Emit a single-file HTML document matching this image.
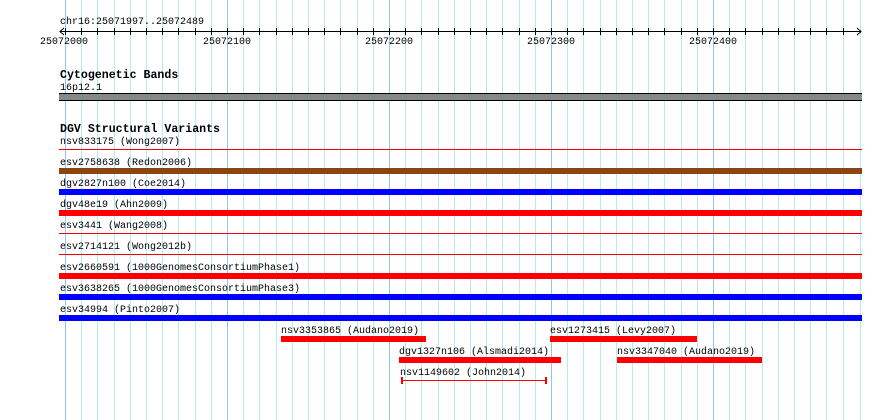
<!DOCTYPE html>
<html><head><meta charset="utf-8"><style>
html,body{margin:0;padding:0;background:#fff;}
svg{display:block;}
text{font-family:"Liberation Mono","DejaVu Sans Mono",monospace;font-size:10px;fill:#000;}
.b{font-weight:bold;font-size:11.6px;}
</style></head><body>
<svg width="890" height="420" xmlns="http://www.w3.org/2000/svg" shape-rendering="crispEdges">
<path stroke="#b4ecf0" stroke-width="1" fill="none" d="M81.5 0V420M97.5 0V420M114.5 0V420M130.5 0V420M146.5 0V420M162.5 0V420M178.5 0V420M195.5 0V420M211.5 0V420M243.5 0V420M259.5 0V420M276.5 0V420M292.5 0V420M308.5 0V420M324.5 0V420M340.5 0V420M357.5 0V420M373.5 0V420M405.5 0V420M421.5 0V420M438.5 0V420M454.5 0V420M470.5 0V420M486.5 0V420M502.5 0V420M519.5 0V420M535.5 0V420M567.5 0V420M583.5 0V420M600.5 0V420M616.5 0V420M632.5 0V420M648.5 0V420M664.5 0V420M681.5 0V420M697.5 0V420M729.5 0V420M745.5 0V420M762.5 0V420M778.5 0V420M794.5 0V420M810.5 0V420M826.5 0V420M843.5 0V420M860.5 0V420"/>
<path stroke="#8cc8ec" stroke-width="1" fill="none" d="M65.5 0V420M227.5 0V420M389.5 0V420M551.5 0V420M713.5 0V420"/>
<line x1="60" y1="31.5" x2="861" y2="31.5" stroke="#000"/>
<path stroke="#000" stroke-width="1" fill="none" d="M65.5 28V35M81.5 28V35M97.5 28V35M114.5 28V35M130.5 28V35M146.5 28V35M162.5 28V35M178.5 28V35M195.5 28V35M211.5 28V35M227.5 28V35M243.5 28V35M259.5 28V35M276.5 28V35M292.5 28V35M308.5 28V35M324.5 28V35M340.5 28V35M357.5 28V35M373.5 28V35M389.5 28V35M405.5 28V35M421.5 28V35M438.5 28V35M454.5 28V35M470.5 28V35M486.5 28V35M502.5 28V35M519.5 28V35M535.5 28V35M551.5 28V35M567.5 28V35M583.5 28V35M600.5 28V35M616.5 28V35M632.5 28V35M648.5 28V35M664.5 28V35M681.5 28V35M697.5 28V35M713.5 28V35M729.5 28V35M745.5 28V35M762.5 28V35M778.5 28V35M794.5 28V35M810.5 28V35M826.5 28V35M843.5 28V35"/>
<polyline points="64,28 60,31.5 64,35" fill="none" stroke="#000"/>
<polyline points="857,28 861,31.5 857,35" fill="none" stroke="#000"/>
<text x="60" y="24">chr16:25071997..25072489</text>
<text x="64" y="44" text-anchor="middle">25072000</text>
<text x="227" y="44" text-anchor="middle">25072100</text>
<text x="389" y="44" text-anchor="middle">25072200</text>
<text x="551" y="44" text-anchor="middle">25072300</text>
<text x="713" y="44" text-anchor="middle">25072400</text>

<text x="60" y="78" class="b">Cytogenetic Bands</text>
<text x="60" y="90">16p12.1</text>
<rect x="59" y="93" width="803" height="8" fill="#000"/>
<rect x="59" y="94" width="803" height="6" fill="#888"/>

<text x="60" y="132" class="b">DGV Structural Variants</text>
<text x="60" y="144">nsv833175 (Wong2007)</text>
<rect x="59" y="149" width="803" height="1" fill="#e00"/>
<text x="60" y="165">esv2758638 (Redon2006)</text>
<rect x="59" y="168" width="803" height="6" fill="#8b4513"/>
<text x="60" y="186">dgv2827n100 (Coe2014)</text>
<rect x="59" y="189" width="803" height="6" fill="#00f"/>
<text x="60" y="207">dgv48e19 (Ahn2009)</text>
<rect x="59" y="210" width="803" height="6" fill="#f00"/>
<text x="60" y="228">esv3441 (Wang2008)</text>
<rect x="59" y="233" width="803" height="1" fill="#e00"/>
<text x="60" y="249">esv2714121 (Wong2012b)</text>
<rect x="59" y="254" width="803" height="1" fill="#e00"/>
<text x="60" y="270">esv2660591 (1000GenomesConsortiumPhase1)</text>
<rect x="59" y="273" width="803" height="6" fill="#f00"/>
<text x="60" y="291">esv3638265 (1000GenomesConsortiumPhase3)</text>
<rect x="59" y="294" width="803" height="6" fill="#00f"/>
<text x="60" y="312">esv34994 (Pinto2007)</text>
<rect x="59" y="315" width="803" height="6" fill="#00f"/>

<text x="281" y="333">nsv3353865 (Audano2019)</text>
<rect x="281" y="336" width="145" height="6" fill="#f00"/>
<text x="550" y="333">esv1273415 (Levy2007)</text>
<rect x="550" y="336" width="147" height="6" fill="#f00"/>
<text x="399" y="354">dgv1327n106 (Alsmadi2014)</text>
<rect x="399" y="357" width="162" height="6" fill="#f00"/>
<text x="617" y="354">nsv3347040 (Audano2019)</text>
<rect x="617" y="357" width="145" height="6" fill="#f00"/>
<text x="400" y="375">nsv1149602 (John2014)</text>
<rect x="401" y="380" width="146" height="1" fill="#f00"/>
<rect x="401" y="377" width="2" height="7" fill="#f00"/>
<rect x="545" y="377" width="2" height="7" fill="#f00"/>
</svg>
</body></html>
